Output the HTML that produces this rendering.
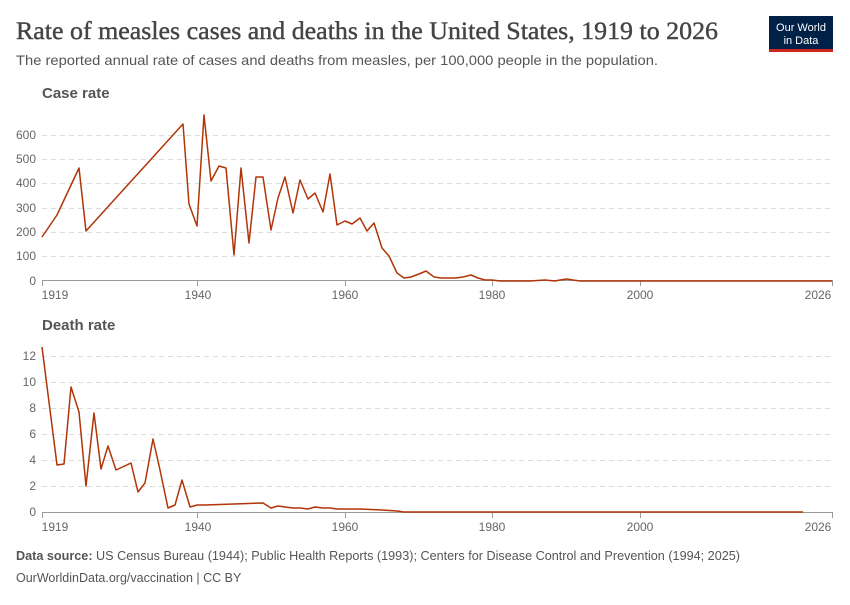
<!DOCTYPE html>
<html><head><meta charset="utf-8"><style>
body{margin:0;background:#fff;width:850px;height:600px;overflow:hidden;font-family:"Liberation Sans",sans-serif}
</style></head><body>
<svg width="850" height="600" xmlns="http://www.w3.org/2000/svg" font-family="Liberation Sans, sans-serif">
<text x="16" y="39" font-family="Liberation Serif, serif" font-size="25" fill="#444" stroke="#444" stroke-width="0.4" textLength="702" lengthAdjust="spacingAndGlyphs">Rate of measles cases and deaths in the United States, 1919 to 2026</text>
<text x="16" y="65" font-size="14" fill="#555" textLength="642" lengthAdjust="spacingAndGlyphs">The reported annual rate of cases and deaths from measles, per 100,000 people in the population.</text>
<rect x="769" y="16" width="64" height="36" fill="#002147"/>
<rect x="769" y="49" width="64" height="3" fill="#ce261e"/>
<text x="801" y="31" font-size="11" fill="#fff" text-anchor="middle">Our World</text>
<text x="801" y="44" font-size="11" fill="#fff" text-anchor="middle">in Data</text>

<text x="42" y="98" font-size="15" font-weight="bold" fill="#555">Case rate</text>
<g stroke="#ddd" stroke-dasharray="5,4" stroke-width="1">
<line x1="42" x2="833" y1="135.5" y2="135.5"/><line x1="42" x2="833" y1="159.5" y2="159.5"/><line x1="42" x2="833" y1="183.5" y2="183.5"/><line x1="42" x2="833" y1="208.5" y2="208.5"/><line x1="42" x2="833" y1="232.5" y2="232.5"/><line x1="42" x2="833" y1="256.5" y2="256.5"/>
</g>
<line x1="42" x2="833" y1="280.5" y2="280.5" stroke="#999"/>
<g font-size="12" fill="#666" text-anchor="end">
<text x="36" y="139">600</text><text x="36" y="163">500</text><text x="36" y="187">400</text><text x="36" y="212">300</text><text x="36" y="236">200</text><text x="36" y="260">100</text><text x="36" y="285">0</text>
</g>
<g stroke="#999"><line x1="42.5" x2="42.5" y1="281" y2="286"/><line x1="197.5" x2="197.5" y1="281" y2="286"/><line x1="345.5" x2="345.5" y1="281" y2="286"/><line x1="492.5" x2="492.5" y1="281" y2="286"/><line x1="640.5" x2="640.5" y1="281" y2="286"/><line x1="832.5" x2="832.5" y1="281" y2="286"/></g>
<g font-size="12" fill="#666" text-anchor="middle">
<text x="55" y="299">1919</text><text x="198" y="299">1940</text><text x="345" y="299">1960</text><text x="492" y="299">1980</text><text x="640" y="299">2000</text><text x="818" y="299">2026</text>
</g>
<polyline fill="none" stroke="#b13507" stroke-width="1.5" stroke-linejoin="round" points="42,237 57,215 79,168 86,231 183,124 189,204 197,226 204,115 211,181 219,166 226,168 234,255 241,168 249,243 256,177 263,177 271,230 278,198 285,177 293,213 300,180 308,199 315,193 323,212 330,174 337,225 345,221 352,224 360,218 367,231 374,223 382,248 389,256 397,273 404,278 411,277 419,274 426,271 434,277 441,278 448,278 456,278 463,277 471,275 478,278 485,280 492,280 500,281 515,281 530,281 545,280 555,281 560,280 567,279 573,280 580,281 832,281"/>

<text x="42" y="330" font-size="15" font-weight="bold" fill="#555">Death rate</text>
<g stroke="#ddd" stroke-dasharray="5,4" stroke-width="1">
<line x1="42" x2="833" y1="356.5" y2="356.5"/><line x1="42" x2="833" y1="382.5" y2="382.5"/><line x1="42" x2="833" y1="408.5" y2="408.5"/><line x1="42" x2="833" y1="434.5" y2="434.5"/><line x1="42" x2="833" y1="460.5" y2="460.5"/><line x1="42" x2="833" y1="486.5" y2="486.5"/>
</g>
<line x1="42" x2="833" y1="512.5" y2="512.5" stroke="#999"/>
<g font-size="12" fill="#666" text-anchor="end">
<text x="36" y="360">12</text><text x="36" y="386">10</text><text x="36" y="412">8</text><text x="36" y="438">6</text><text x="36" y="464">4</text><text x="36" y="490">2</text><text x="36" y="516">0</text>
</g>
<g stroke="#999"><line x1="42.5" x2="42.5" y1="513" y2="518"/><line x1="197.5" x2="197.5" y1="513" y2="518"/><line x1="345.5" x2="345.5" y1="513" y2="518"/><line x1="492.5" x2="492.5" y1="513" y2="518"/><line x1="640.5" x2="640.5" y1="513" y2="518"/><line x1="832.5" x2="832.5" y1="513" y2="518"/></g>
<g font-size="12" fill="#666" text-anchor="middle">
<text x="55" y="531">1919</text><text x="198" y="531">1940</text><text x="345" y="531">1960</text><text x="492" y="531">1980</text><text x="640" y="531">2000</text><text x="818" y="531">2026</text>
</g>
<polyline fill="none" stroke="#b13507" stroke-width="1.5" stroke-linejoin="round" points="42,347 57,465 64,464 71,387 79,412 86,486 94,413 101,469 108,446 116,470 131,463 138,492 145,483 153,439 160,470 168,508 175,505 182,480 190,507 197,505 205,505 263,503 271,508 278,506 285,507 293,508 300,508 308,509 315,507 323,508 330,508 337,509 360,509 382,510 397,511 404,512 803,512"/>

<text x="16" y="560" font-size="12.5" fill="#555" textLength="724" lengthAdjust="spacingAndGlyphs"><tspan font-weight="bold">Data source:</tspan> US Census Bureau (1944); Public Health Reports (1993); Centers for Disease Control and Prevention (1994; 2025)</text>
<text x="16" y="582" font-size="12.5" fill="#555">OurWorldinData.org/vaccination | CC BY</text>
</svg>
</body></html>
